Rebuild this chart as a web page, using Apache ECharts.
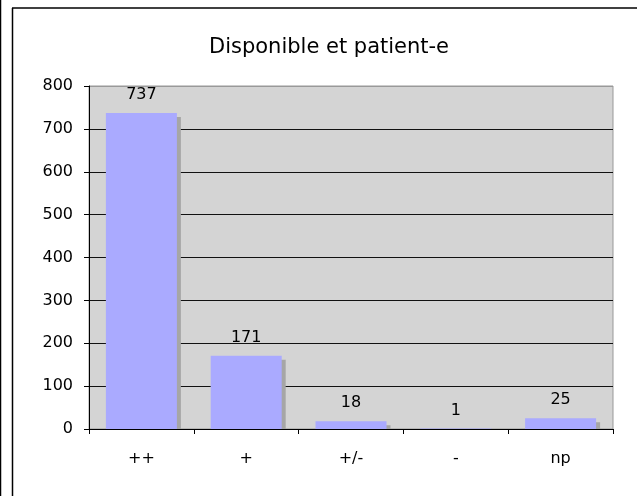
<!DOCTYPE html>
<html>
<head>
<meta charset="utf-8">
<script src="https://cdn.jsdelivr.net/npm/echarts@6/dist/echarts.min.js"></script>
<style>
  html, body { margin: 0; padding: 0; background: #fff; }
  #chart { width: 637px; height: 496px; }
</style>
</head>
<body>
<div id="chart"></div>
<script>
const title = 'Disponible et patient-e'
const categories = ['++', '+', '+/-', '-', 'np']
const values = [737, 171, 18, 1, 25]
const yTicks = [0, 100, 200, 300, 400, 500, 600, 700, 800]

const font = 'Verdana, "DejaVu Sans", sans-serif'
const barW = 71

const chart = echarts.init(document.getElementById('chart'))
const gridColors = yTicks.map((v, i) => (i === yTicks.length - 1 ? '#999' : '#111'))

// gray drop shadow behind each bar, offset 4px right / down
function renderShadow(params, api) {
  const top = api.coord([api.value(0), api.value(1)])
  const base = api.coord([api.value(0), 0])
  const h = Math.max(0, base[1] - top[1] - 4)
  return {
    type: 'rect',
    shape: { x: top[0] - barW / 2 + 4, y: base[1] - h, width: barW, height: h },
    style: { fill: '#A6A6A6' }
  }
}

const option = {
  backgroundColor: '#fff',
  animation: false,
  title: {
    text: title,
    left: 324,
    textAlign: 'center',
    top: 32,
    textStyle: {
      fontFamily: font,
      fontSize: 21,
      fontWeight: 'normal',
      color: '#000'
    }
  },
  graphic: [
    { type: 'line', shape: { x1: 0.5, y1: 0, x2: 0.5, y2: 496 }, style: { stroke: '#000', lineWidth: 1.5 } },
    { type: 'line', shape: { x1: 12.5, y1: 8, x2: 12.5, y2: 496 }, style: { stroke: '#000', lineWidth: 1.5 } },
    { type: 'line', shape: { x1: 12, y1: 8, x2: 637, y2: 8 }, style: { stroke: '#000', lineWidth: 1.5 } }
  ],
  grid: {
    left: 89,
    right: 24,
    top: 86,
    bottom: 67,
    show: true,
    backgroundColor: '#D4D4D4',
    borderColor: '#999',
    borderWidth: 1,
    containLabel: false
  },
  xAxis: {
    type: 'category',
    data: categories,
    axisLine: { show: true, lineStyle: { color: '#000', width: 1 } },
    axisTick: { show: true, length: 5, lineStyle: { color: '#000' } },
    axisLabel: { color: '#000', fontFamily: font, fontSize: 16, margin: 22 },
    splitLine: { show: false }
  },
  yAxis: {
    type: 'value',
    min: 0,
    max: 800,
    interval: 100,
    axisLine: { show: true, lineStyle: { color: '#000', width: 1 } },
    axisTick: { show: true, length: 5, lineStyle: { color: '#000' } },
    axisLabel: { color: '#000', fontFamily: font, fontSize: 16, margin: 16 },
    splitLine: { show: true, lineStyle: { color: gridColors, width: 1 } }
  },
  series: [
    {
      type: 'custom',
      renderItem: renderShadow,
      data: categories.map((c, i) => [i, values[i]]),
      z: 1,
      silent: true
    },
    {
      type: 'bar',
      data: values,
      barWidth: barW,
      z: 2,
      itemStyle: { color: '#AAAAFF' },
      label: {
        show: true,
        position: 'top',
        distance: 10,
        color: '#000',
        fontFamily: font,
        fontSize: 16
      }
    }
  ]
}

chart.setOption(option)
</script>
</body>
</html>
